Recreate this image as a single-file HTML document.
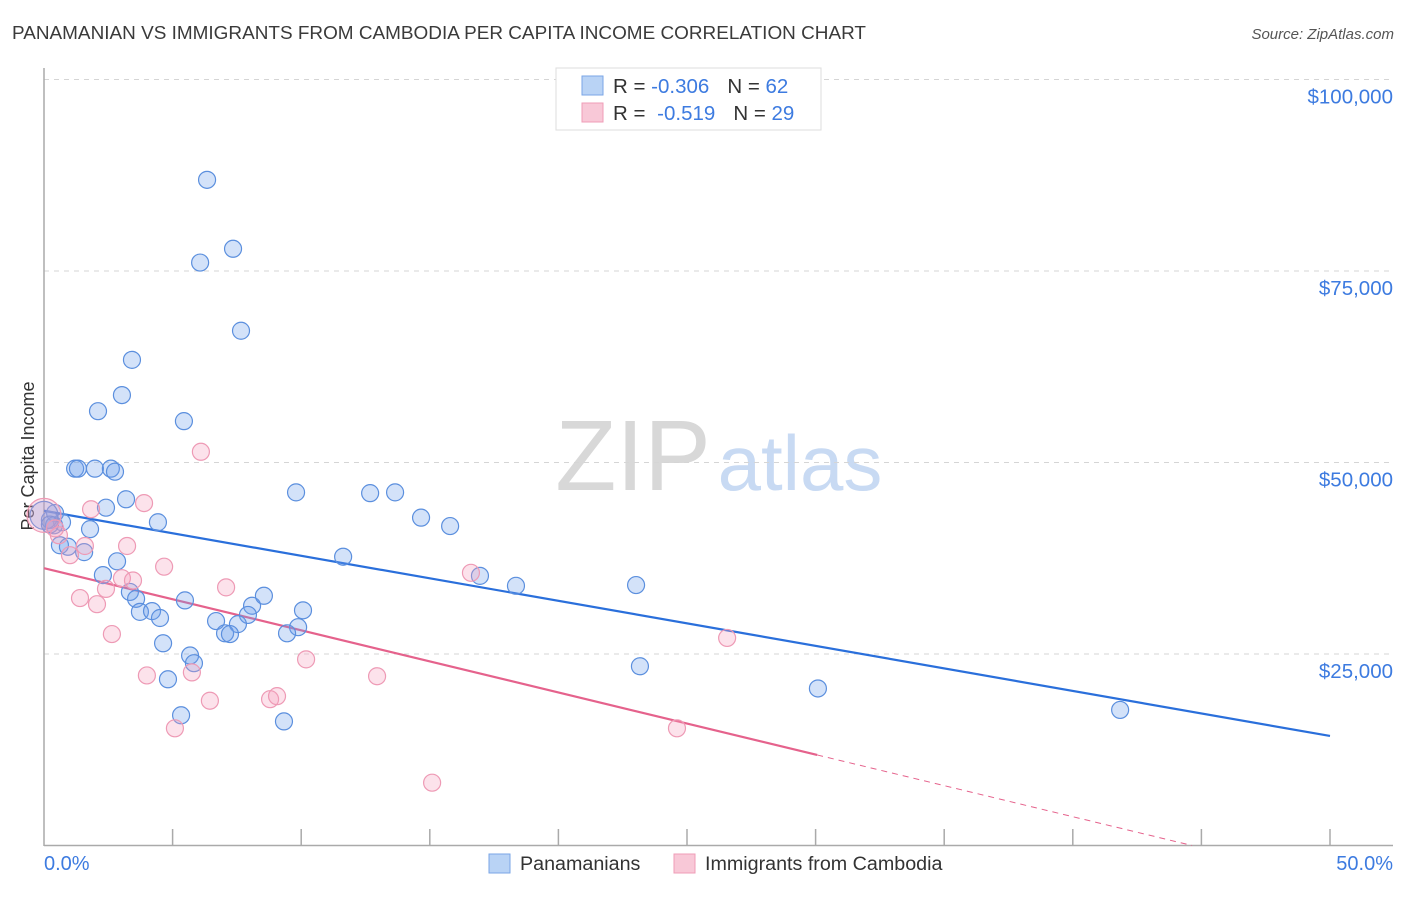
<!DOCTYPE html>
<html><head><meta charset="utf-8"><style>
body{margin:0;background:#fff;font-family:"Liberation Sans",sans-serif}
svg text{font-family:"Liberation Sans",sans-serif}
</style></head><body>
<svg id="chart" width="1406" height="892" xmlns="http://www.w3.org/2000/svg">
<text x="12" y="39" font-size="18.5" fill="#3a3a3a" textLength="854" lengthAdjust="spacingAndGlyphs">PANAMANIAN VS IMMIGRANTS FROM CAMBODIA PER CAPITA INCOME CORRELATION CHART</text>
<text x="1394" y="39" font-size="15" fill="#555" text-anchor="end" font-style="italic">Source: ZipAtlas.com</text>
<text transform="translate(34,456) rotate(-90)" font-size="18" fill="#333" text-anchor="middle">Per Capita Income</text>
<g>
<text x="633" y="490" font-size="100" fill="#d8d8d8" text-anchor="middle" font-family="Liberation Serif, serif">ZIP</text>
<text x="800" y="490" font-size="78" fill="#c8daf3" text-anchor="middle">atlas</text>
</g>
<g id="grid"></g>
<g id="axes"></g>
<g id="lines"></g>
<g id="pts"></g>
<g>
<rect x="556" y="68" width="265" height="62" fill="#fff" stroke="#ddd"/>
<rect x="582" y="76" width="21" height="19" fill="#b9d3f5" stroke="#7aa6e6"/>
<rect x="582" y="103" width="21" height="19" fill="#f8c8d7" stroke="#ef9db7"/>
<text x="613" y="93" font-size="20.5" fill="#333">R = <tspan fill="#3d7be0">-0.306</tspan><tspan dx="18">N = </tspan><tspan fill="#3d7be0">62</tspan></text>
<text x="613" y="120" font-size="20.5" fill="#333">R = <tspan dx="6" fill="#3d7be0">-0.519</tspan><tspan dx="18">N = </tspan><tspan fill="#3d7be0">29</tspan></text>
</g>
<g>
<rect x="489" y="854" width="21" height="19" fill="#b9d3f5" stroke="#7aa6e6"/>
<text x="520" y="870" font-size="19.7" fill="#333">Panamanians</text>
<rect x="674" y="854" width="21" height="19" fill="#f8c8d7" stroke="#ef9db7"/>
<text x="705" y="870" font-size="19.7" fill="#333">Immigrants from Cambodia</text>
</g>
</svg>
<script>
const blueX=[6.34,7.35,6.07,7.66,3.42,3.03,2.10,5.44,1.21,1.32,1.98,2.60,2.76,3.19,9.80,12.68,13.65,14.66,15.79,2.41,0.43,4.43,0.70,1.79,0.23,0.39,0.62,0.93,1.56,2.84,11.63,16.95,18.35,23.02,2.29,3.34,3.58,8.09,8.55,5.48,3.73,4.20,4.51,10.07,7.93,6.69,7.54,9.88,7.04,7.23,9.45,4.63,5.68,5.83,4.82,23.17,30.09,5.33,9.33,41.84,0.0,0.23];
const blueY=[86.9,77.9,76.1,67.2,63.4,58.8,56.7,55.4,49.2,49.2,49.2,49.2,48.8,45.2,46.1,46.0,46.1,42.8,41.7,44.1,43.4,42.2,42.2,41.3,42.5,41.8,39.2,39.0,38.3,37.1,37.7,35.2,33.9,34.0,35.3,33.1,32.2,31.3,32.6,32.0,30.5,30.6,29.7,30.7,30.1,29.3,28.9,28.5,27.7,27.6,27.7,26.4,24.8,23.8,21.7,23.4,20.5,17.0,16.2,17.7,43.1,41.9];
const pinkX=[6.10,1.83,3.89,3.23,1.59,4.67,7.08,3.03,3.46,2.41,1.40,2.06,2.64,10.19,4.00,5.75,6.45,8.79,9.06,5.09,16.60,12.95,26.56,24.61,15.09,0.0,0.58,1.01,0.43];
const pinkY=[51.4,43.9,44.7,39.1,39.1,36.4,33.7,34.9,34.6,33.5,32.3,31.5,27.6,24.3,22.2,22.6,18.9,19.1,19.5,15.3,35.6,22.1,27.1,15.3,8.2,43.1,40.5,37.9,41.4];
const yTicks=[25,50,75,100];
const yTickLabels=["$25,000","$50,000","$75,000","$100,000"];
const blueTrend=[43.7,14.3];
const pinkTrend=[36.2,-4.35];
const pinkSolidEnd=30.06;
const NS="http://www.w3.org/2000/svg";
const xs=v=>44+v*25.72, ys=v=>845.5-v*7.66;
function mk(p,t,a){const e=document.createElementNS(NS,t);for(const k in a)e.setAttribute(k,a[k]);document.getElementById(p).appendChild(e);return e;}
yTicks.forEach((t,i)=>{
 const g=mk('grid','line',{x1:44,x2:1393,y1:ys(t),y2:ys(t),stroke:'#d5d5d5','stroke-dasharray':'5,5'});
 
 
 const tx=mk('grid','text',{x:1393,y:ys(t)+24,'font-size':20.5,fill:'#3d7be0','text-anchor':'end'});
 tx.textContent=yTickLabels[i];
 
 
});
const ay=mk('axes','line',{x1:44,x2:44,y1:68,y2:846,stroke:'#aaa','stroke-width':1.5});


const ax=mk('axes','line',{x1:44,x2:1393,y1:845.5,y2:845.5,stroke:'#aaa','stroke-width':1.5});


for(let i=1;i<=10;i++){const tk=mk('axes','line',{x1:xs(i*5),x2:xs(i*5),y1:829,y2:845,stroke:'#aaa','stroke-width':1.5});
 
 }
const l0=mk('axes','text',{x:44,y:870,'font-size':20,fill:'#3d7be0'});l0.textContent='0.0%';


const l1=mk('axes','text',{x:1393,y:870,'font-size':20,fill:'#3d7be0','text-anchor':'end'});l1.textContent='50.0%';


function dot(x,y,c,s,r){const e=mk('pts','circle',{cx:xs(x),cy:ys(y),r:r,fill:c,stroke:s,'stroke-width':1.2});return e;}
blueX.forEach((x,i)=>{const e=dot(x,blueY[i],'rgba(110,160,235,0.3)','#5b8fde',x===0?14:8.5);
 
 });
pinkX.forEach((x,i)=>{const e=dot(x,pinkY[i],'rgba(245,160,190,0.3)','#ee9ab5',x===0?17:8.5);
 
 });
const bl=mk('lines','line',{x1:xs(0),y1:ys(blueTrend[0]),x2:xs(50),y2:ys(blueTrend[1]),stroke:'#2a6fdb','stroke-width':2.2});


const pv=x=>pinkTrend[0]+(pinkTrend[1]-pinkTrend[0])*x/50;
const pl=mk('lines','line',{x1:xs(0),y1:ys(pinkTrend[0]),x2:xs(pinkSolidEnd),y2:ys(pv(pinkSolidEnd)),stroke:'#e5628c','stroke-width':2.2});


const zeroX=pinkTrend[0]/(pinkTrend[0]-pinkTrend[1])*50;
const pd=mk('lines','line',{x1:xs(pinkSolidEnd),y1:ys(pv(pinkSolidEnd)),x2:xs(zeroX),y2:ys(0),stroke:'#e5628c','stroke-width':1,'stroke-dasharray':'6,5'});


</script>
</body></html>
